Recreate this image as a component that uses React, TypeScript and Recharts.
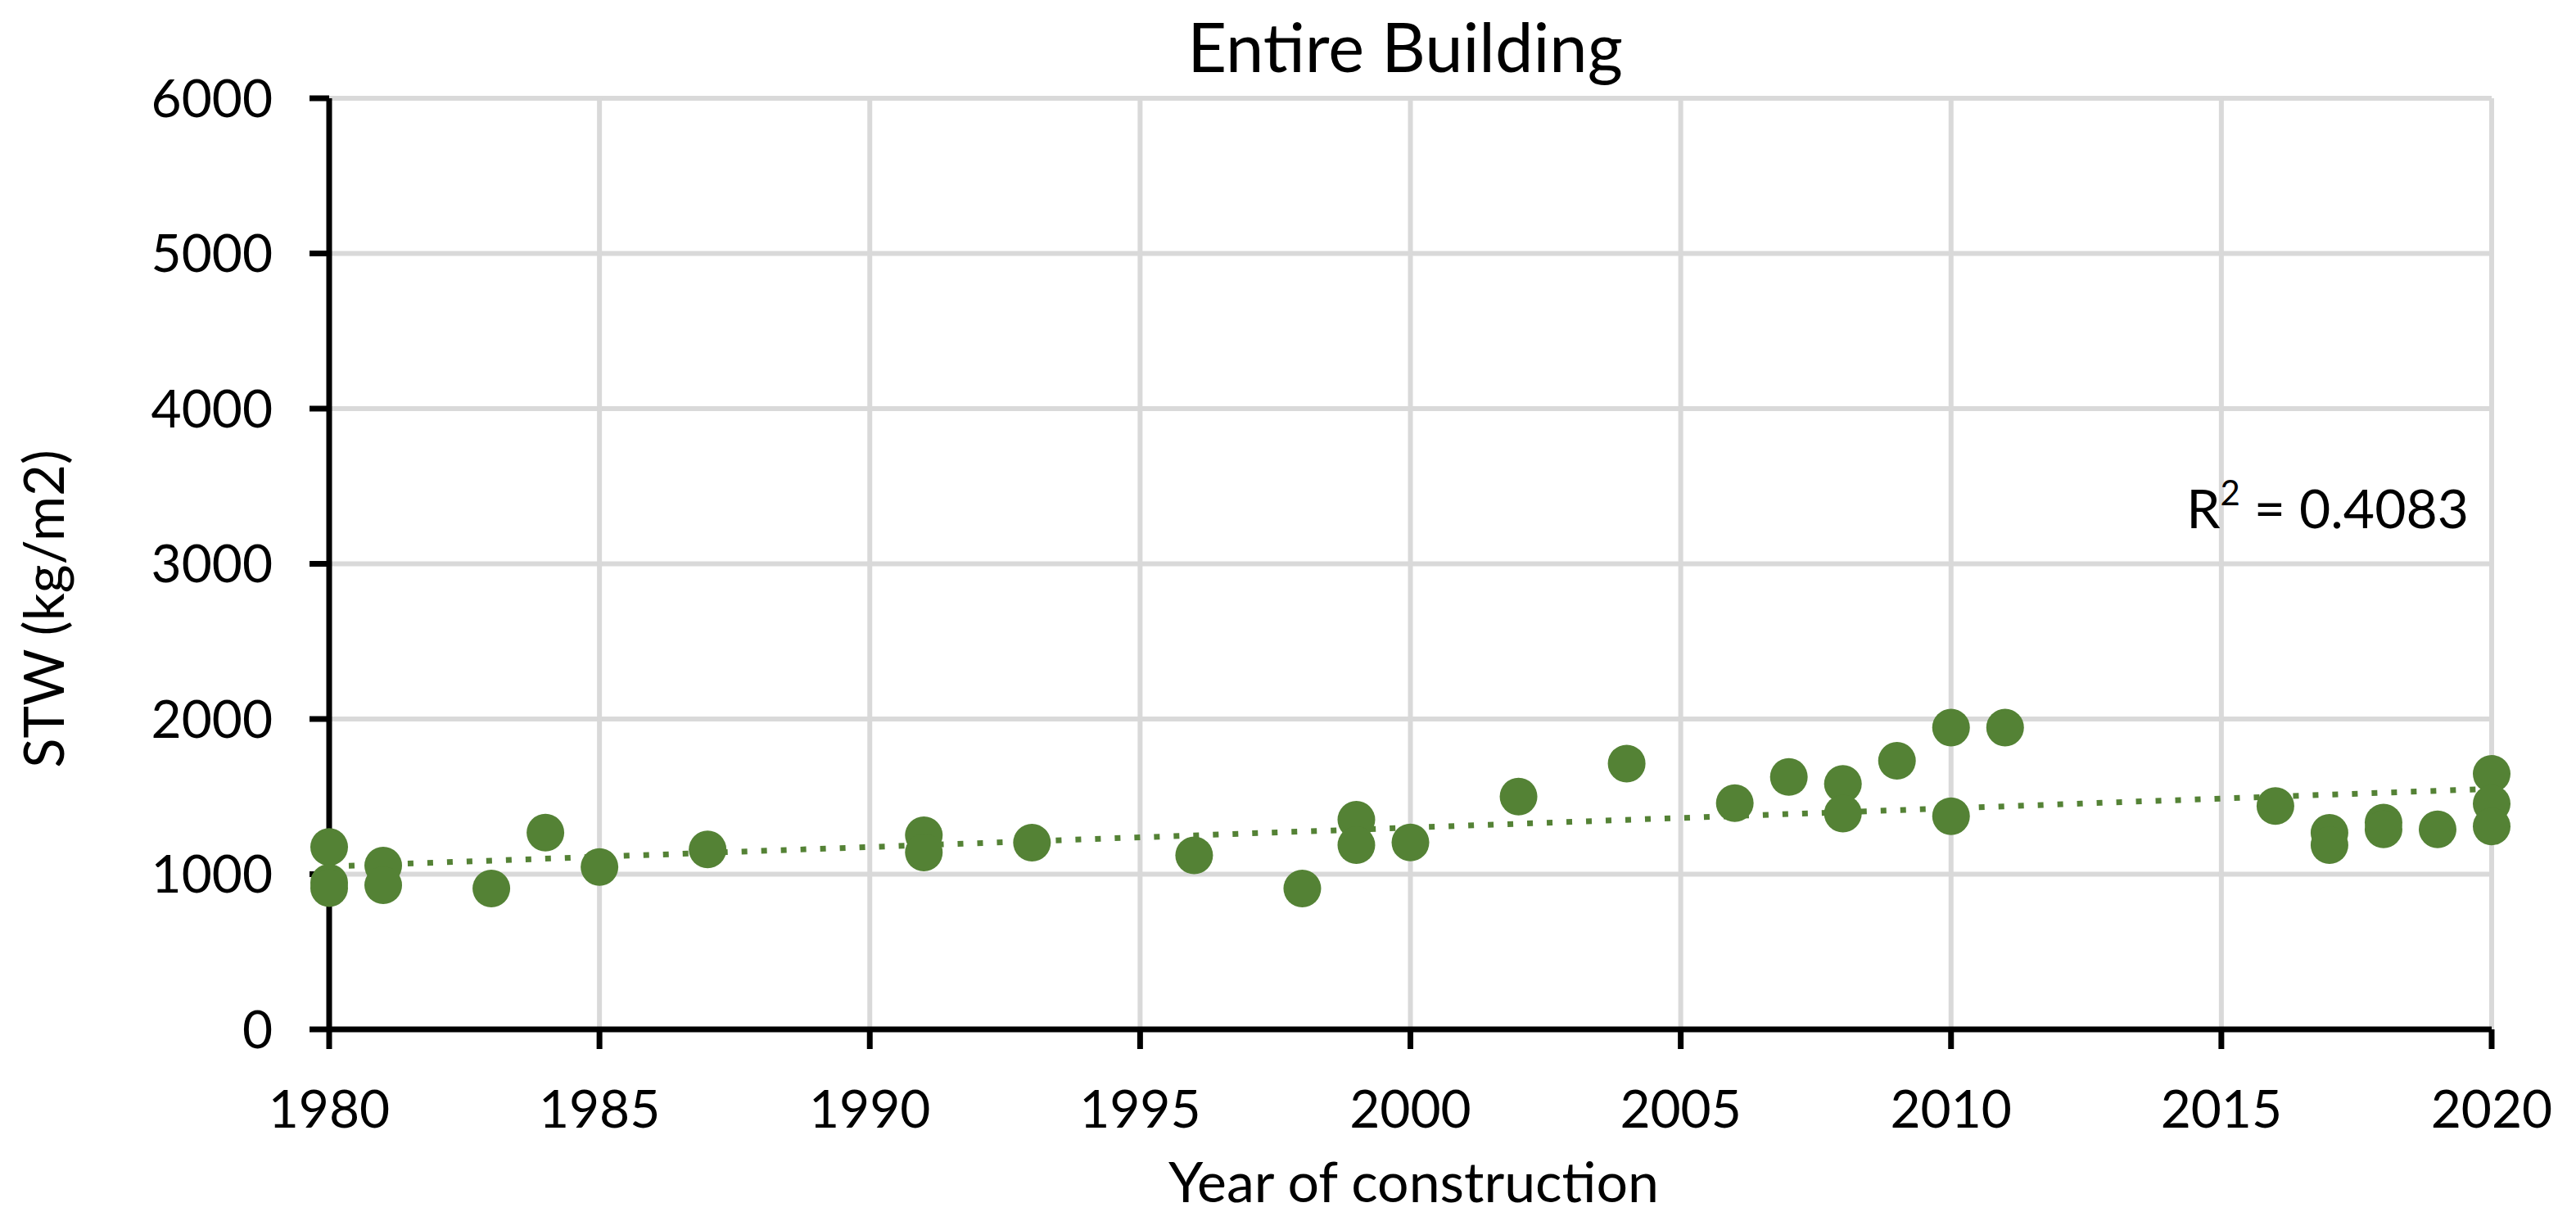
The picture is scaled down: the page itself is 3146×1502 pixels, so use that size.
import React from "react";
import {
  CartesianGrid,
  ReferenceLine,
  Scatter,
  ScatterChart,
  XAxis,
  YAxis,
  Label,
} from "recharts";

// Year of construction and STW (kg/m2) of every building
const YEARS = [
  1980, 1980, 1980, 1981, 1981, 1983, 1984, 1985, 1987, 1991, 1991, 1993,
  1996, 1998, 1999, 1999, 2000, 2002, 2004, 2006, 2007, 2008, 2008, 2009,
  2010, 2010, 2011, 2016, 2017, 2017, 2018, 2018, 2019, 2020, 2020, 2020,
];
const STW = [
  1175, 945, 910, 1055, 929, 908, 1268, 1046, 1160, 1251, 1140, 1203,
  1121, 908, 1351, 1187, 1204, 1500, 1713, 1458, 1626, 1582, 1391, 1731,
  1945, 1374, 1945, 1439, 1266, 1187, 1332, 1289, 1289, 1646, 1454, 1308,
];

// linear trendline end points (as drawn in the source)
const TREND_YEARS = [1980, 2020];
const TREND_STW = [1050, 1550];

const X_TICKS = [1980, 1985, 1990, 1995, 2000, 2005, 2010, 2015, 2020];
const Y_TICKS = [0, 1000, 2000, 3000, 4000, 5000, 6000];

const TITLE = "Entire Building";
const X_TITLE = "Year of construction";
const Y_TITLE = "STW (kg/m2)";
const R2_VALUE = "0.4083";

const GREEN = "#548235";
const FONT = "Lato, 'Open Sans', sans-serif";

const W = 3146;
const H = 1502;

const points = YEARS.map((year, i) => ({ year, stw: STW[i] }));

const Dot = (props: any) => (
  <circle cx={props.cx} cy={props.cy} r={23} fill={GREEN} />
);

const YTitle = (props: any) => {
  const vb = props.viewBox;
  const cx = vb.x + 78;
  const cy = vb.y + vb.height / 2 + 55;
  return (
    <text
      x={cx}
      y={cy}
      transform={`rotate(-90 ${cx} ${cy})`}
      textAnchor="middle"
      fontFamily={FONT}
      fontSize={67}
      fill="#000"
    >
      {Y_TITLE}
    </text>
  );
};

const XTitle = (props: any) => {
  const vb = props.viewBox;
  return (
    <text
      x={vb.x + vb.width / 2 + 4}
      y={vb.y + 211}
      textAnchor="middle"
      fontFamily={FONT}
      fontSize={68}
      fill="#000"
    >
      {X_TITLE}
    </text>
  );
};

export default function App() {
  const tickStyle = { fontFamily: FONT, fontSize: 64, fill: "#000" };

  return (
    <div
      style={{
        position: "absolute",
        left: 0,
        top: 0,
        width: W,
        height: H,
        background: "#fff",
      }}
    >
      <ScatterChart
        width={W}
        height={H}
        margin={{ top: 120, right: 103, left: 0, bottom: 0 }}
      >
        <CartesianGrid stroke="#d9d9d9" strokeWidth={6} />
        <XAxis
          type="number"
          dataKey="year"
          domain={[1980, 2020]}
          ticks={X_TICKS}
          height={245}
          axisLine={{ stroke: "#000", strokeWidth: 7 }}
          tickLine={{ stroke: "#000", strokeWidth: 7 }}
          tickSize={24}
          tickMargin={51}
          tick={tickStyle}
          interval={0}
        >
          <Label content={<XTitle />} />
        </XAxis>
        <YAxis
          type="number"
          dataKey="stw"
          domain={[0, 6000]}
          ticks={Y_TICKS}
          width={402}
          axisLine={{ stroke: "#000", strokeWidth: 7 }}
          tickLine={{ stroke: "#000", strokeWidth: 7 }}
          tickSize={24}
          tickMargin={45}
          tick={tickStyle}
          interval={0}
        >
          <Label content={<YTitle />} />
        </YAxis>
        <ReferenceLine
          segment={[
            { x: TREND_YEARS[0], y: TREND_STW[0] },
            { x: TREND_YEARS[1], y: TREND_STW[1] },
          ]}
          stroke={GREEN}
          strokeWidth={7}
          strokeDasharray="7 17"
        />
        <Scatter
          data={points}
          fill={GREEN}
          shape={<Dot />}
          isAnimationActive={false}
        />
      </ScatterChart>
      <svg
        width={W}
        height={H}
        style={{ position: "absolute", left: 0, top: 0, pointerEvents: "none" }}
      >
        <text
          x={1716}
          y={88}
          textAnchor="middle"
          fontFamily={FONT}
          fontSize={83}
          fill="#000"
        >
          {TITLE}
        </text>
        <text
          x={3015}
          y={645}
          textAnchor="end"
          fontFamily={FONT}
          fontSize={66}
          fill="#000"
        >
          R
          <tspan fontSize={42} dy={-28}>
            2
          </tspan>
          <tspan dy={28}>{" = " + R2_VALUE}</tspan>
        </text>
      </svg>
    </div>
  );
}
